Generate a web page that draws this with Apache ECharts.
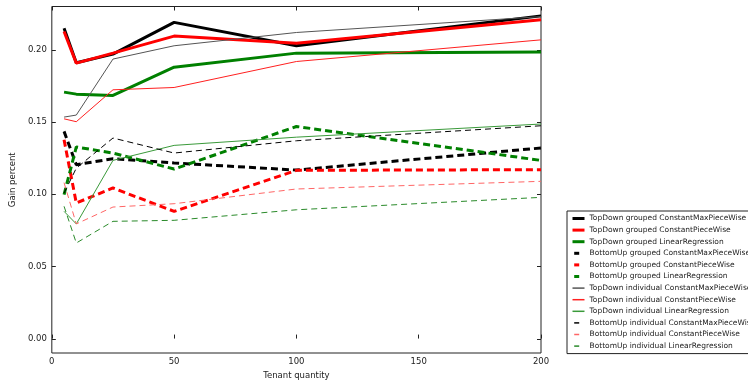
<!DOCTYPE html>
<html>
<head>
<meta charset="utf-8">
<script src="https://cdn.jsdelivr.net/npm/echarts@6/dist/echarts.min.js"></script>
<style>
html,body{margin:0;padding:0;background:#fff;}
#c{width:748px;height:385px;}
</style>
</head>
<body>
<div id="c"></div>
<script>
// ---- data ----
var tenants = [5, 10, 25, 50, 100, 200];
var yTicks = [0.00, 0.05, 0.10, 0.15, 0.20];
var xTicks = [0, 50, 100, 150, 200];

var tdGroupedCMPW = [0.2150, 0.1910, 0.1970, 0.2190, 0.2028, 0.2235];
var tdGroupedCPW  = [0.2127, 0.1908, 0.1977, 0.2095, 0.2046, 0.2208];
var tdGroupedLR   = [0.1707, 0.1693, 0.1684, 0.1880, 0.1977, 0.1984];
var buGroupedCMPW = [0.1435, 0.1204, 0.1246, 0.1216, 0.1167, 0.1320];
var buGroupedCPW  = [0.1377, 0.0939, 0.1043, 0.0881, 0.1165, 0.1170];
var buGroupedLR   = [0.0997, 0.1327, 0.1285, 0.1174, 0.1469, 0.1234];
var tdIndivCMPW   = [0.1534, 0.1548, 0.1936, 0.2028, 0.2120, 0.2230];
var tdIndivCPW    = [0.1522, 0.1502, 0.1723, 0.1739, 0.1919, 0.2069];
var tdIndivLR     = [0.0881, 0.0794, 0.1234, 0.1338, 0.1395, 0.1486];
var buIndivCMPW   = [0.1008, 0.1180, 0.1389, 0.1285, 0.1370, 0.1474];
var buIndivCPW    = [0.1080, 0.0794, 0.0911, 0.0934, 0.1036, 0.1089];
var buIndivLR     = [0.0916, 0.0662, 0.0812, 0.0819, 0.0892, 0.0978];

var names = [
  'TopDown grouped ConstantMaxPieceWise',
  'TopDown grouped ConstantPieceWise',
  'TopDown grouped LinearRegression',
  'BottomUp grouped ConstantMaxPieceWise',
  'BottomUp grouped ConstantPieceWise',
  'BottomUp grouped LinearRegression',
  'TopDown individual ConstantMaxPieceWise',
  'TopDown individual ConstantPieceWise',
  'TopDown individual LinearRegression',
  'BottomUp individual ConstantMaxPieceWise',
  'BottomUp individual ConstantPieceWise',
  'BottomUp individual LinearRegression'
];
var values = [tdGroupedCMPW, tdGroupedCPW, tdGroupedLR, buGroupedCMPW, buGroupedCPW, buGroupedLR,
              tdIndivCMPW, tdIndivCPW, tdIndivLR, buIndivCMPW, buIndivCPW, buIndivLR];

// ---- styles ----
var styles = [
  {c:'#000000', w:3, t:'solid'},
  {c:'#ff0000', w:3, t:'solid'},
  {c:'#008000', w:3, t:'solid'},
  {c:'#000000', w:3, t:[7,4]},
  {c:'#ff0000', w:3, t:[7,4]},
  {c:'#008000', w:3, t:[7,4]},
  {c:'#555555', w:1, t:'solid'},
  {c:'#ff2020', w:1, t:'solid'},
  {c:'#3a9a3a', w:1, t:'solid'},
  {c:'#000000', w:1, t:[6,4]},
  {c:'#ff6666', w:1, t:[6,4]},
  {c:'#2a8a2a', w:1, t:[6,4]}
];

var series = names.map(function(n, i){
  return {
    name: n, type: 'line', symbol: 'none', showSymbol: false, smooth: false, animation: false,
    data: tenants.map(function(x, j){ return [x, values[i][j]]; }),
    lineStyle: {color: styles[i].c, width: styles[i].w, type: styles[i].t},
    itemStyle: {color: styles[i].c}
  };
});

var legendData = names.map(function(n, i){
  var dashed = styles[i].t !== 'solid';
  return {
    name: n,
    itemStyle: {opacity: 0, borderWidth: 0},
    lineStyle: {
      color: styles[i].c,
      width: styles[i].w === 3 ? 3 : 1.5,
      type: dashed ? [5, 7] : 'solid',
      dashOffset: dashed ? 10.3 : 0
    }
  };
});

var font = 'DejaVu Sans';
var chart = echarts.init(document.getElementById('c'), null, {renderer:'canvas'});
var option = {
  animation: false,
  backgroundColor: '#fff',
  grid: {left: 49, right: 207, top: 6.5, bottom: 32, show: true, borderColor: '#222', borderWidth: 1},
  xAxis: [{
    type: 'value', min: 0, max: 200, interval: 50,
    name: 'Tenant quantity', nameLocation: 'middle', nameGap: 16,
    nameTextStyle: {fontFamily: font, fontSize: 8.5, color: '#222'},
    axisLine: {show: false}, splitLine: {show: false},
    axisTick: {show: true, inside: true, length: 4, lineStyle: {color: '#222'}},
    axisLabel: {fontFamily: font, fontSize: 8.5, color: '#222', margin: 4}
  }, {
    type: 'value', min: 0, max: 200, interval: 50, position: 'top',
    axisLine: {show: false}, splitLine: {show: false},
    axisTick: {show: true, inside: true, length: 4, lineStyle: {color: '#222'}},
    axisLabel: {show: false}
  }],
  yAxis: {
    type: 'value', min: -0.01, max: 0.23, interval: 0.01,
    name: 'Gain percent', nameLocation: 'middle', nameGap: 26,
    nameTextStyle: {fontFamily: font, fontSize: 8.5, color: '#222'},
    axisLine: {show: false}, splitLine: {show: false}, axisTick: {show: false},
    axisLabel: {
      fontFamily: font, fontSize: 8.5, color: '#222', margin: 5,
      formatter: function(v){
        for (var k = 0; k < yTicks.length; k++) {
          if (Math.abs(v - yTicks[k]) < 1e-6) return yTicks[k].toFixed(2);
        }
        return '';
      }
    }
  },
  legend: {
    orient: 'vertical', left: 567, top: 211,
    data: legendData,
    itemWidth: 12, itemHeight: 3, itemGap: 2.6, itemTextGap: 10,
    padding: [3, 4, 3, 4],
    borderColor: '#222', borderWidth: 1, backgroundColor: '#fff',
    textStyle: {fontFamily: font, fontSize: 7.5, color: '#222', lineHeight: 9}
  },
  series: series
};
chart.setOption(option);

// y ticks (inward, left and right)
var g = [];
var xl = chart.convertToPixel({xAxisIndex: 0}, 0);
var xr = chart.convertToPixel({xAxisIndex: 0}, 200);
yTicks.forEach(function(v){
  var y = Math.round(chart.convertToPixel({yAxisIndex: 0}, v)) + 0.5;
  g.push({type:'line', shape:{x1:xl, y1:y, x2:xl+4, y2:y}, style:{stroke:'#222', lineWidth:1}, silent:true});
  g.push({type:'line', shape:{x1:xr-4, y1:y, x2:xr, y2:y}, style:{stroke:'#222', lineWidth:1}, silent:true});
});
chart.setOption({graphic: g});
</script>
</body>
</html>
